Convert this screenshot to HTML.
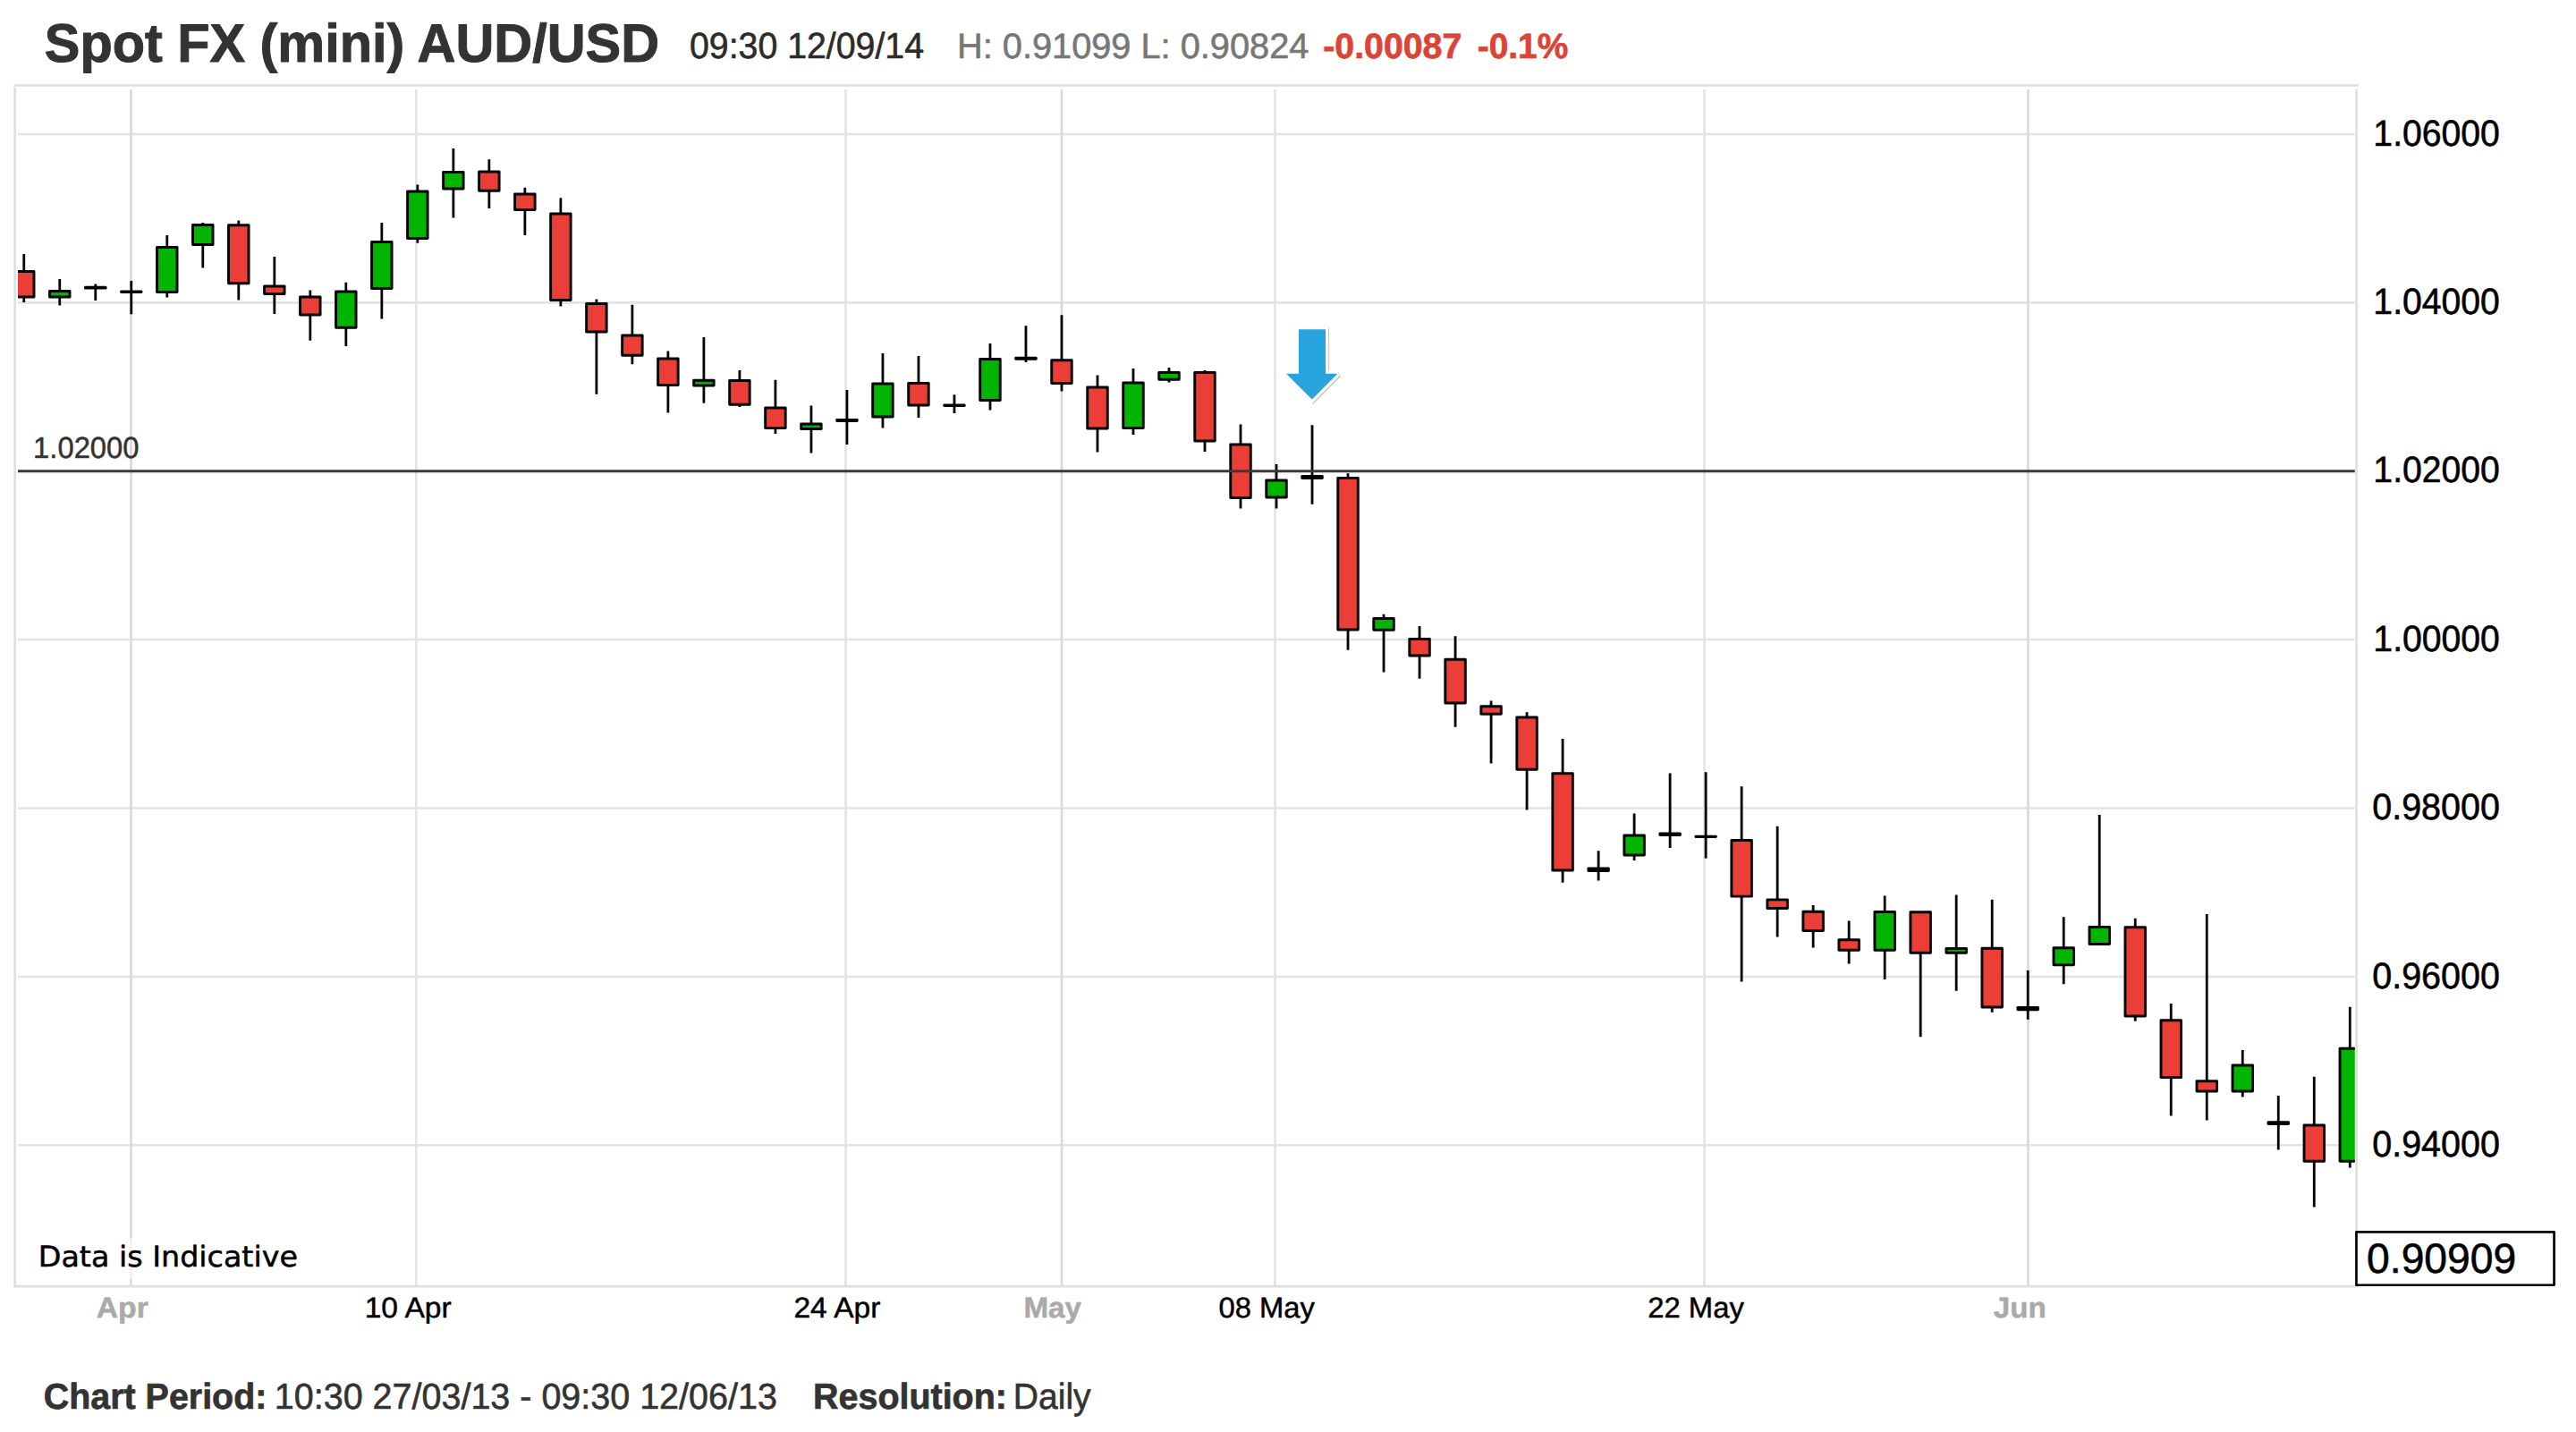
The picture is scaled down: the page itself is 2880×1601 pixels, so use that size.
<!DOCTYPE html>
<html lang="en"><head><meta charset="utf-8"><title>Spot FX (mini) AUD/USD</title>
<style>
html,body{margin:0;padding:0;background:#fff;}
body{width:2880px;height:1601px;overflow:hidden;}
svg{display:block;}
text{font-family:"Liberation Sans",Arial,Helvetica,sans-serif;text-rendering:geometricPrecision;}
.b{font-weight:bold;}
.vd{font-family:"DejaVu Sans",Verdana,sans-serif;}
.w{stroke:#000;stroke-width:2.8;fill:none;}
.r{fill:#ea3e36;stroke:#000;stroke-width:2.9;stroke-linejoin:round;}
.g{fill:#00b400;stroke:#000;stroke-width:2.9;stroke-linejoin:round;}
.d{fill:#000;stroke:#000;stroke-width:2.9;stroke-linejoin:round;}
.gl{stroke:#e3e3e3;stroke-width:2.6;fill:none;}
.gv{stroke:#d9d9d9;stroke-width:2.6;fill:none;}
.bd{stroke:#dfdfdf;stroke-width:2.6;fill:none;}
</style></head><body>
<svg width="2880" height="1601" viewBox="0 0 2880 1601">
<defs><clipPath id="plot"><rect x="20" y="98" width="2612.75" height="1340"/></clipPath>
<filter id="sh" x="-30%" y="-30%" width="160%" height="160%"><feGaussianBlur stdDeviation="0.6"/></filter></defs>
<rect x="0" y="0" width="2880" height="1601" fill="#fff"/>
<g class="gl">
<path d="M20 150H2632.75"/>
<path d="M20 338.4H2632.75"/>
<path d="M20 715H2632.75"/>
<path d="M20 903.5H2632.75"/>
<path d="M20 1092H2632.75"/>
<path d="M20 1280.2H2632.75"/>
</g>
<g class="gv">
<path d="M146.5 100V1437"/>
<path d="M1187 100V1437"/>
<path d="M2267.4 100V1437"/>
</g>
<g class="gl">
<path d="M465.25 100V1437"/>
<path d="M945.5 100V1437"/>
<path d="M1425.5 100V1437"/>
<path d="M1905.5 100V1437"/>
</g>
<g class="bd">
<path d="M16.7 97.8V1439.4"/>
<path d="M15.4 95.5H2637"/>
<path d="M2634.6 99.4V1376"/>
<path d="M15.4 1438.1H2636"/>
</g>
<g clip-path="url(#plot)">
<path class="w" d="M26.75 284V303"/>
<path class="w" d="M26.75 332.5V338"/>
<rect class="r" x="15.5" y="303.45" width="22.5" height="28.6"/>
<path class="w" d="M66.76 312V325"/>
<path class="w" d="M66.76 332.5V341.5"/>
<rect class="g" x="55.51" y="325.45" width="22.5" height="6.6"/>
<path class="w" d="M106.77 317.5V336"/>
<rect class="d" x="95.52" y="321.32" width="22.5" height="0.85"/>
<path class="w" d="M146.77 314V351.25"/>
<rect class="d" x="135.52" y="325.95" width="22.5" height="0.6"/>
<path class="w" d="M186.78 263V276"/>
<path class="w" d="M186.78 327V332.5"/>
<rect class="g" x="175.53" y="276.45" width="22.5" height="50.1"/>
<path class="w" d="M226.79 249V251"/>
<path class="w" d="M226.79 274V299.5"/>
<rect class="g" x="215.54" y="251.45" width="22.5" height="22.1"/>
<path class="w" d="M266.8 246.5V251.25"/>
<path class="w" d="M266.8 317.25V335.5"/>
<rect class="r" x="255.55" y="251.7" width="22.5" height="65.1"/>
<path class="w" d="M306.81 287V319.5"/>
<path class="w" d="M306.81 329V351"/>
<rect class="r" x="295.56" y="319.95" width="22.5" height="8.6"/>
<path class="w" d="M346.81 324.5V331.5"/>
<path class="w" d="M346.81 352.5V380.75"/>
<rect class="r" x="335.56" y="331.95" width="22.5" height="20.1"/>
<path class="w" d="M386.82 315.75V325.5"/>
<path class="w" d="M386.82 366.75V387"/>
<rect class="g" x="375.57" y="325.95" width="22.5" height="40.35"/>
<path class="w" d="M426.83 249V270"/>
<path class="w" d="M426.83 323V356.5"/>
<rect class="g" x="415.58" y="270.45" width="22.5" height="52.1"/>
<path class="w" d="M466.84 206.5V213.5"/>
<path class="w" d="M466.84 267V271.75"/>
<rect class="g" x="455.59" y="213.95" width="22.5" height="52.6"/>
<path class="w" d="M506.85 166V192"/>
<path class="w" d="M506.85 211.5V243.5"/>
<rect class="g" x="495.6" y="192.45" width="22.5" height="18.6"/>
<path class="w" d="M546.85 178.25V191.5"/>
<path class="w" d="M546.85 213.75V233"/>
<rect class="r" x="535.6" y="191.95" width="22.5" height="21.35"/>
<path class="w" d="M586.86 209.75V216.5"/>
<path class="w" d="M586.86 235V263"/>
<rect class="r" x="575.61" y="216.95" width="22.5" height="17.6"/>
<path class="w" d="M626.87 221.25V238.5"/>
<path class="w" d="M626.87 336V342.5"/>
<rect class="r" x="615.62" y="238.95" width="22.5" height="96.6"/>
<path class="w" d="M666.88 334.5V339"/>
<path class="w" d="M666.88 371.5V440.75"/>
<rect class="r" x="655.63" y="339.45" width="22.5" height="31.6"/>
<path class="w" d="M706.89 340.75V374.5"/>
<path class="w" d="M706.89 397.75V407.25"/>
<rect class="r" x="695.64" y="374.95" width="22.5" height="22.35"/>
<path class="w" d="M746.89 392.5V400.5"/>
<path class="w" d="M746.89 431V461.5"/>
<rect class="r" x="735.64" y="400.95" width="22.5" height="29.6"/>
<path class="w" d="M786.9 377V424.75"/>
<path class="w" d="M786.9 431.5V450.75"/>
<rect class="g" x="775.65" y="425.2" width="22.5" height="5.85"/>
<path class="w" d="M826.91 414V425"/>
<path class="w" d="M826.91 452.75V455"/>
<rect class="r" x="815.66" y="425.45" width="22.5" height="26.85"/>
<path class="w" d="M866.92 424.75V455.5"/>
<path class="w" d="M866.92 479V485"/>
<rect class="r" x="855.67" y="455.95" width="22.5" height="22.6"/>
<path class="w" d="M906.93 453.5V473.5"/>
<path class="w" d="M906.93 480V506.5"/>
<rect class="g" x="895.68" y="473.95" width="22.5" height="5.6"/>
<path class="w" d="M946.93 436V497"/>
<rect class="d" x="935.68" y="469.45" width="22.5" height="1.1"/>
<path class="w" d="M986.94 395V428.5"/>
<path class="w" d="M986.94 466.5V478.5"/>
<rect class="g" x="975.69" y="428.95" width="22.5" height="37.1"/>
<path class="w" d="M1026.95 398V428"/>
<path class="w" d="M1026.95 453.5V467"/>
<rect class="r" x="1015.7" y="428.45" width="22.5" height="24.6"/>
<path class="w" d="M1066.96 441.25V462"/>
<rect class="d" x="1055.71" y="452.95" width="22.5" height="0.6"/>
<path class="w" d="M1106.97 384V401"/>
<path class="w" d="M1106.97 448V458.5"/>
<rect class="g" x="1095.72" y="401.45" width="22.5" height="46.1"/>
<path class="w" d="M1146.97 364.25V405"/>
<rect class="d" x="1135.72" y="400.2" width="22.5" height="1.1"/>
<path class="w" d="M1186.98 352.25V402.25"/>
<path class="w" d="M1186.98 429V437.5"/>
<rect class="r" x="1175.73" y="402.7" width="22.5" height="25.85"/>
<path class="w" d="M1226.99 419.5V432.5"/>
<path class="w" d="M1226.99 479.5V505.5"/>
<rect class="r" x="1215.74" y="432.95" width="22.5" height="46.1"/>
<path class="w" d="M1267 412V427.5"/>
<path class="w" d="M1267 479V486"/>
<rect class="g" x="1255.75" y="427.95" width="22.5" height="50.6"/>
<path class="w" d="M1307.01 411V416"/>
<path class="w" d="M1307.01 424.75V427.5"/>
<rect class="g" x="1295.76" y="416.45" width="22.5" height="7.85"/>
<path class="w" d="M1347.01 414V416"/>
<path class="w" d="M1347.01 493.5V505"/>
<rect class="r" x="1335.76" y="416.45" width="22.5" height="76.6"/>
<path class="w" d="M1387.02 474.5V496.5"/>
<path class="w" d="M1387.02 557V568.5"/>
<rect class="r" x="1375.77" y="496.95" width="22.5" height="59.6"/>
<path class="w" d="M1427.03 519V536.5"/>
<path class="w" d="M1427.03 556.5V568.5"/>
<rect class="g" x="1415.78" y="536.95" width="22.5" height="19.1"/>
<path class="w" d="M1467.04 475.25V563.75"/>
<rect class="d" x="1455.79" y="532.45" width="22.5" height="2.1"/>
<path class="w" d="M1507.05 529.25V534"/>
<path class="w" d="M1507.05 704.5V726.75"/>
<rect class="r" x="1495.8" y="534.45" width="22.5" height="169.6"/>
<path class="w" d="M1547.05 686.75V691"/>
<path class="w" d="M1547.05 704.75V751.5"/>
<rect class="g" x="1535.8" y="691.45" width="22.5" height="12.85"/>
<path class="w" d="M1587.06 700V714"/>
<path class="w" d="M1587.06 733.5V758.75"/>
<rect class="r" x="1575.81" y="714.45" width="22.5" height="18.6"/>
<path class="w" d="M1627.07 711.25V736.75"/>
<path class="w" d="M1627.07 786.5V812.75"/>
<rect class="r" x="1615.82" y="737.2" width="22.5" height="48.85"/>
<path class="w" d="M1667.08 783.5V789.25"/>
<path class="w" d="M1667.08 798.75V853.5"/>
<rect class="r" x="1655.83" y="789.7" width="22.5" height="8.6"/>
<path class="w" d="M1707.09 796.25V801.5"/>
<path class="w" d="M1707.09 860.75V905.5"/>
<rect class="r" x="1695.84" y="801.95" width="22.5" height="58.35"/>
<path class="w" d="M1747.09 826V864.25"/>
<path class="w" d="M1747.09 973.5V986.75"/>
<rect class="r" x="1735.84" y="864.7" width="22.5" height="108.35"/>
<path class="w" d="M1787.1 951.25V984.5"/>
<rect class="d" x="1775.85" y="970.95" width="22.5" height="2.6"/>
<path class="w" d="M1827.11 909.5V933.5"/>
<path class="w" d="M1827.11 956.5V962"/>
<rect class="g" x="1815.86" y="933.95" width="22.5" height="22.1"/>
<path class="w" d="M1867.12 864.5V948"/>
<rect class="d" x="1855.87" y="931.95" width="22.5" height="1.6"/>
<path class="w" d="M1907.13 863.25V959.6"/>
<rect class="d" x="1895.88" y="935.12" width="22.5" height="0.35"/>
<path class="w" d="M1947.13 879.25V939"/>
<path class="w" d="M1947.13 1002.6V1097.5"/>
<rect class="r" x="1935.88" y="939.45" width="22.5" height="62.7"/>
<path class="w" d="M1987.14 923.75V1005.4"/>
<path class="w" d="M1987.14 1015.9V1047.5"/>
<rect class="r" x="1975.89" y="1005.85" width="22.5" height="9.6"/>
<path class="w" d="M2027.15 1012V1018.75"/>
<path class="w" d="M2027.15 1041V1059.5"/>
<rect class="r" x="2015.9" y="1019.2" width="22.5" height="21.35"/>
<path class="w" d="M2067.16 1029.5V1050.25"/>
<path class="w" d="M2067.16 1062.75V1077.5"/>
<rect class="r" x="2055.91" y="1050.7" width="22.5" height="11.6"/>
<path class="w" d="M2107.17 1001.5V1019"/>
<path class="w" d="M2107.17 1062.75V1095"/>
<rect class="g" x="2095.92" y="1019.45" width="22.5" height="42.85"/>
<path class="w" d="M2147.17 1065.75V1159.25"/>
<rect class="r" x="2135.92" y="1019.7" width="22.5" height="45.6"/>
<path class="w" d="M2187.18 1000.5V1060"/>
<path class="w" d="M2187.18 1065.75V1107.75"/>
<rect class="g" x="2175.93" y="1060.45" width="22.5" height="4.85"/>
<path class="w" d="M2227.19 1005.75V1059.75"/>
<path class="w" d="M2227.19 1126.5V1131.75"/>
<rect class="r" x="2215.94" y="1060.2" width="22.5" height="65.85"/>
<path class="w" d="M2267.2 1085V1139.75"/>
<rect class="d" x="2255.95" y="1126.33" width="22.5" height="2.35"/>
<path class="w" d="M2307.21 1025.25V1059.25"/>
<path class="w" d="M2307.21 1079.25V1100.25"/>
<rect class="g" x="2295.96" y="1059.7" width="22.5" height="19.1"/>
<path class="w" d="M2347.21 911V1036"/>
<rect class="g" x="2335.96" y="1036.45" width="22.5" height="19.1"/>
<path class="w" d="M2387.22 1026.75V1036.25"/>
<path class="w" d="M2387.22 1136.5V1141.75"/>
<rect class="r" x="2375.97" y="1036.7" width="22.5" height="99.35"/>
<path class="w" d="M2427.23 1122.1V1140.25"/>
<path class="w" d="M2427.23 1205.1V1247.5"/>
<rect class="r" x="2415.98" y="1140.7" width="22.5" height="63.95"/>
<path class="w" d="M2467.24 1022V1208.25"/>
<path class="w" d="M2467.24 1220.5V1252.5"/>
<rect class="r" x="2455.99" y="1208.7" width="22.5" height="11.35"/>
<path class="w" d="M2507.25 1174V1190.5"/>
<path class="w" d="M2507.25 1220.4V1226.4"/>
<rect class="g" x="2496" y="1190.95" width="22.5" height="29"/>
<path class="w" d="M2547.25 1225V1285.5"/>
<rect class="d" x="2536" y="1254.67" width="22.5" height="1.85"/>
<path class="w" d="M2587.26 1203.75V1257.5"/>
<path class="w" d="M2587.26 1298.75V1349.5"/>
<rect class="r" x="2576.01" y="1257.95" width="22.5" height="40.35"/>
<path class="w" d="M2627.27 1125.75V1171.75"/>
<path class="w" d="M2627.27 1298.75V1305.5"/>
<rect class="g" x="2616.02" y="1172.2" width="22.5" height="126.1"/>
</g>
<path d="M20 526.7H2632.75" stroke="#3a3a3a" stroke-width="2.9" fill="none"/>
<polygon points="1452,368.2 1482,368.2 1482,417.7 1495.5,417.7 1466.8,446.6 1438,417.7 1452,417.7" transform="translate(1.1,1.2)" fill="#a8a8a8" stroke="#a8a8a8" stroke-width="6" stroke-linejoin="miter" stroke-miterlimit="2" filter="url(#sh)" opacity="0.75"/>
<polygon points="1452,368.2 1482,368.2 1482,417.7 1495.5,417.7 1466.8,446.6 1438,417.7 1452,417.7" fill="#fff" stroke="#fff" stroke-width="6.4" stroke-linejoin="miter" stroke-miterlimit="2"/>
<polygon points="1452,368.2 1482,368.2 1482,417.7 1495.5,417.7 1466.8,446.6 1438,417.7 1452,417.7" fill="#27a4dd"/>
<rect x="30" y="1384.5" width="318" height="45.5" fill="#fff" opacity="0.6"/>
<rect x="2634.45" y="1377.45" width="221.1" height="59.3" fill="#fff" stroke="#000" stroke-width="2.7" stroke-linejoin="round"/>
<text class="b" transform="matrix(0.9821 0 0 1 49.77 69.10)" font-size="60.47" fill="#333" stroke="#333" stroke-width="1.0" stroke-linejoin="round">Spot FX (mini) AUD/USD</text>
<text transform="matrix(0.9647 0 0 1 771.04 65.10)" font-size="40.7" fill="#2b2b2b" stroke="#2b2b2b" stroke-width="0.6" stroke-linejoin="round">09:30 12/09/14</text>
<text transform="matrix(1.0019 0 0 1 1069.99 65.30)" font-size="39.68" fill="#777" stroke="#777" stroke-width="0.6" stroke-linejoin="round">H: 0.91099 L: 0.90824</text>
<text class="b" transform="matrix(0.9935 0 0 1 1479.26 65.30)" font-size="39.53" fill="#db4437" stroke="#db4437" stroke-width="0.7" stroke-linejoin="round">-0.00087</text>
<text class="b" transform="matrix(0.9827 0 0 1 1651.77 65.30)" font-size="39.53" fill="#db4437" stroke="#db4437" stroke-width="0.7" stroke-linejoin="round">-0.1%</text>
<text transform="matrix(0.9754 0 0 1 37.11 512.00)" font-size="33.58" fill="#333" stroke="#333" stroke-width="0.5" stroke-linejoin="round">1.02000</text>
<text class="vd" transform="matrix(1.0393 0 0 1 42.74 1415.70)" font-size="32.1" fill="#000" stroke="#000" stroke-width="0.5" stroke-linejoin="round">Data is Indicative</text>
<text transform="matrix(0.9841 0 0 1 2646.12 1422.70)" font-size="46.95" fill="#000" stroke="#000" stroke-width="0.6" stroke-linejoin="round">0.90909</text>
<text class="b" transform="matrix(1.0409 0 0 1 107.73 1473.30)" font-size="32.41" fill="#aaa" stroke="#aaa" stroke-width="0.5" stroke-linejoin="round">Apr</text>
<text transform="matrix(1.0356 0 0 1 407.67 1473.30)" font-size="32.41" fill="#000" stroke="#000" stroke-width="0.5" stroke-linejoin="round">10 Apr</text>
<text transform="matrix(1.0341 0 0 1 887.41 1473.30)" font-size="32.41" fill="#000" stroke="#000" stroke-width="0.5" stroke-linejoin="round">24 Apr</text>
<text class="b" transform="matrix(1.0246 0 0 1 1144.45 1473.30)" font-size="32.41" fill="#aaa" stroke="#aaa" stroke-width="0.5" stroke-linejoin="round">May</text>
<text transform="matrix(1.0095 0 0 1 1362.49 1473.30)" font-size="32.41" fill="#000" stroke="#000" stroke-width="0.5" stroke-linejoin="round">08 May</text>
<text transform="matrix(1.0119 0 0 1 1842.24 1473.30)" font-size="32.41" fill="#000" stroke="#000" stroke-width="0.5" stroke-linejoin="round">22 May</text>
<text class="b" transform="matrix(1.0224 0 0 1 2228.74 1473.30)" font-size="32.41" fill="#aaa" stroke="#aaa" stroke-width="0.5" stroke-linejoin="round">Jun</text>
<text class="b" transform="matrix(0.9751 0 0 1 48.78 1574.80)" font-size="40.41" fill="#333" stroke="#333" stroke-width="0.7" stroke-linejoin="round">Chart Period:</text>
<text transform="matrix(0.9738 0 0 1 306.82 1574.80)" font-size="40.55" fill="#333" stroke="#333" stroke-width="0.6" stroke-linejoin="round">10:30 27/03/13 - 09:30 12/06/13</text>
<text class="b" transform="matrix(0.9758 0 0 1 909.05 1574.80)" font-size="40.41" fill="#333" stroke="#333" stroke-width="0.7" stroke-linejoin="round">Resolution:</text>
<text transform="matrix(0.9629 0 0 1 1132.86 1574.80)" font-size="40.55" fill="#333" stroke="#333" stroke-width="0.6" stroke-linejoin="round">Daily</text>
<text transform="matrix(0.9546 0 0 1 2653.37 162.50)" font-size="40.99" fill="#000" stroke="#000" stroke-width="0.6" stroke-linejoin="round">1.06000</text>
<text transform="matrix(0.9546 0 0 1 2653.37 350.90)" font-size="40.99" fill="#000" stroke="#000" stroke-width="0.6" stroke-linejoin="round">1.04000</text>
<text transform="matrix(0.9546 0 0 1 2653.37 539.20)" font-size="40.99" fill="#000" stroke="#000" stroke-width="0.6" stroke-linejoin="round">1.02000</text>
<text transform="matrix(0.9546 0 0 1 2653.37 727.50)" font-size="40.99" fill="#000" stroke="#000" stroke-width="0.6" stroke-linejoin="round">1.00000</text>
<text transform="matrix(0.9619 0 0 1 2652.30 916.00)" font-size="40.99" fill="#000" stroke="#000" stroke-width="0.6" stroke-linejoin="round">0.98000</text>
<text transform="matrix(0.9619 0 0 1 2652.30 1104.50)" font-size="40.99" fill="#000" stroke="#000" stroke-width="0.6" stroke-linejoin="round">0.96000</text>
<text transform="matrix(0.9619 0 0 1 2652.30 1292.70)" font-size="40.99" fill="#000" stroke="#000" stroke-width="0.6" stroke-linejoin="round">0.94000</text>
</svg>
</body></html>
